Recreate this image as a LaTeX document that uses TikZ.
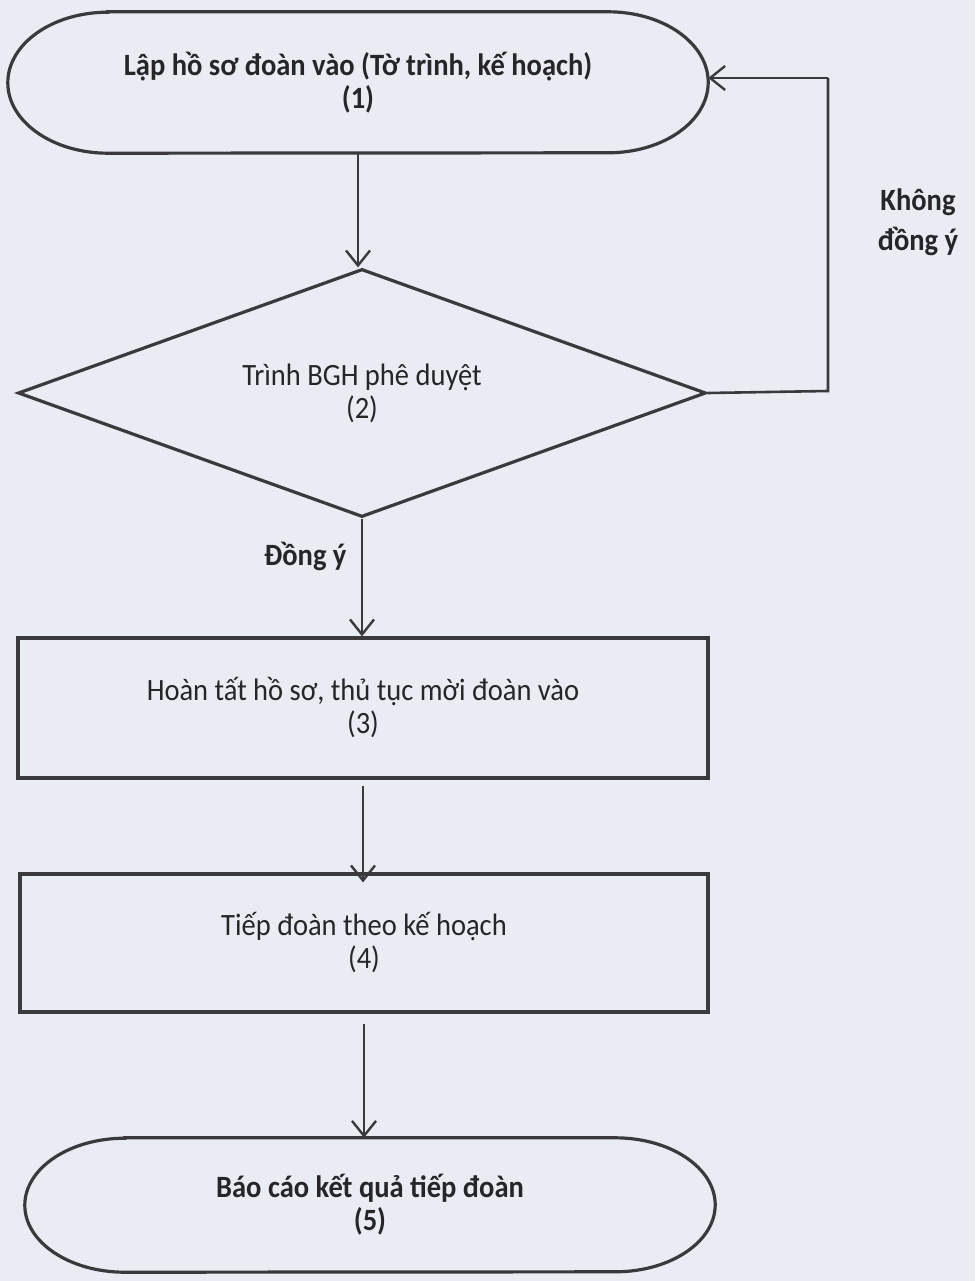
\documentclass[tikz,border=0pt]{standalone}
\usepackage{fontspec}
\setmainfont{Carlito}[FakeStretch=0.92]
\usetikzlibrary{shapes.geometric,arrows.meta}
\definecolor{bgc}{HTML}{E9ECF3}
\definecolor{lnc}{HTML}{3A3A3C}
\definecolor{txc}{HTML}{262628}
\tikzset{
  shapeline/.style={draw=lnc, line width=3.2pt},
  txt/.style={text=txc, font=\fontsize{31}{33}\selectfont, align=center},
  btxt/.style={txt, font=\fontsize{31}{33}\selectfont\bfseries},
  termbox/.style={btxt, minimum width=#1, inner sep=0pt},
  procbox/.style={txt, shapeline, rectangle, inner sep=0pt},
  decbox/.style={txt, shapeline, diamond, inner sep=0pt},
  arr/.style={draw=lnc, line width=2.4pt, -{Straight Barb[length=15pt,width=24pt,line width=2.4pt]}},
  flow/.style={draw=lnc, line width=2.6pt}
}
\newcommand{\termoutline}[3]{% node, half height, side depth
  \draw[shapeline] ([xshift=#3]#1.north west) -- ([xshift=-#3]#1.north east)
    arc[start angle=90,end angle=-90,x radius=#3,y radius=#2]
    -- ([xshift=#3]#1.south west)
    arc[start angle=270,end angle=90,x radius=#3,y radius=#2] -- cycle;}
\begin{document}
\begin{tikzpicture}[x=1pt,y=-1pt]
\fill[bgc] (0,0) rectangle (975,1281);
\useasboundingbox (0,0) rectangle (975,1281);

\node[termbox=700pt, minimum height=141pt] (t1) at (358,82.5) {Lập hồ sơ đoàn vào (Tờ trình, kế hoạch)\\(1)};
\termoutline{t1}{70.5pt}{100pt}

\node[decbox, minimum width=688pt, minimum height=248pt, aspect=2.774] (d2) at (362,393) {Trình BGH phê duyệt\\(2)};

\node[procbox, minimum width=690pt, minimum height=140pt] (b3) at (363,708) {Hoàn tất hồ sơ, thủ tục mời đoàn vào\\(3)};

\node[procbox, minimum width=688pt, minimum height=138pt] (b4) at (364,943) {Tiếp đoàn theo kế hoạch\\(4)};

\node[termbox=690pt, minimum height=134pt] (t5) at (370,1205) {Báo cáo kết quả tiếp đoàn\\(5)};
\termoutline{t5}{67pt}{100pt}

% connectors
\draw[arr] (t1.south) -- (t1.south |- d2.north);
\draw[arr] (d2.south) -- (d2.south |- b3.north);
\coordinate (s4) at ([yshift=-6pt]b3.south);
\draw[arr] (s4) -- ([yshift=-10pt]s4 |- b4.north);
\coordinate (s5) at ([yshift=-10pt]b4.south);
\draw[arr] (s5) -- (s5 |- t5.north);

% loop back
\coordinate (c1) at (828,391);
\coordinate (c2) at (828,78);
\draw[flow] (d2.east) -- (c1) -- (c2);
\draw[arr] (c2) -- (t1.east |- c2);

% labels
\node[btxt, font=\fontsize{31}{40}\selectfont\bfseries] (lno) at (918,222) {Không\\đồng ý};
\node[btxt, anchor=east] (lyes) at (350,556) {Đồng ý};
\end{tikzpicture}
\end{document}
